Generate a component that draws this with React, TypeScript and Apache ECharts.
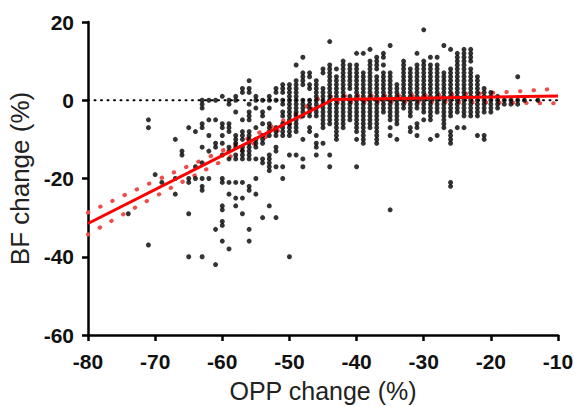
import React, { useEffect, useRef } from "react";
import * as echarts from "echarts";

// OPP change (%) columns and the BF change (%) values observed in each column
const oppColumns = [
  -74, -71, -70, -69, -67, -66, -65, -64, -63, -62, -61, -60, -59, -58, -57, -56, -55, -54, -53, -52,
  -51, -50, -49, -48, -47, -46, -45, -44, -43, -42, -41, -40, -39, -38, -37, -36, -35, -34, -33, -32,
  -31, -30, -29, -28, -27, -26, -25, -24, -23, -22, -21, -20, -19, -18, -17, -16, -15, -13,
];
const bfColumns: number[][] = [
  [-29],
  [-5, -7, -37],
  [-19],
  [-21],
  [-10, -20, -24],
  [-13, -14],
  [-7, -20, -21, -29, -40],
  [-8, -17, -20],
  [0, -1, -2, -6, -7, -12, -16, -20, -22, -23, -40],
  [0, -5, -9, -13, -20],
  [0, -5, -11, -12, -33, -42],
  [1, -6, -7, -9, -11, -14, -20, -21, -27, -28, -31, -32, -36],
  [0, -1, -6, -7, -8, -12, -13, -15, -21, -24, -38],
  [1, 0, -3, -9, -10, -11, -12, -14, -15, -21, -25, -27],
  [3, 2, -5, -8, -9, -10, -12, -13, -14, -15, -21, -25, -29],
  [5, 3, 2, -1, -3, -4, -5, -8, -9, -10, -11, -12, -13, -14, -15, -22, -23, -33, -36],
  [1, 0, -2, -7, -10, -11, -12, -15, -20, -24],
  [0, -3, -4, -6, -9, -10, -11, -15, -16, -30],
  [1, 0, -2, -6, -7, -8, -9, -14, -15, -16, -17, -18, -27],
  [3, 2, 0, -7, -8, -9, -12, -13, -17, -30],
  [4, 3, 2, 0, -1, -3, -4, -6, -7, -8, -9, -17, -20],
  [4, 3, 2, 1, 0, -1, -2, -3, -4, -5, -6, -7, -8, -9, -14, -40],
  [9, 5, 4, 3, 2, 1, 0, -1, -2, -3, -4, -5, -6, -7, -8, -14],
  [11, 7, 6, 5, 4, 0, -1, -2, -3, -4, -10, -15, -17],
  [7, 6, 4, 3, 0, -1, -2, -3, -4, -7, -8],
  [5, 4, 3, 2, 1, 0, -1, -2, -3, -4, -9, -11, -12, -14],
  [8, 7, 3, 2, 1, 0, -1, -2, -3, -4, -5, -6, -7, -11],
  [15, 9, 8, 7, 6, 5, 4, 3, 2, 1, 0, -1, -2, -3, -4, -5, -6, -14, -17],
  [8, 6, 5, 4, 3, 2, 1, 0, -1, -2, -3, -4, -5, -6, -7, -8, -9, -10],
  [10, 9, 8, 7, 6, 5, 4, 3, 2, 1, 0, -1, -2, -3, -4, -5, -6, -7],
  [9, 8, 7, 6, 5, 4, 3, 1, 0, -1, -2, -3, -4, -5],
  [12, 9, 8, 7, 6, 5, 4, 3, 2, 1, 0, -1, -2, -3, -4, -5, -6, -7, -8, -10, -17],
  [12, 7, 6, 5, 4, 3, 2, 1, 0, -1, -2, -3, -4, -5, -6, -7, -8, -9, -10, -11],
  [13, 10, 9, 8, 7, 6, 5, 4, 3, 2, 1, 0, -1, -2, -3, -4, -5, -6, -7],
  [11, 10, 9, 8, 6, 5, 4, 3, 2, 1, 0, -1, -2, -3, -4, -5, -6, -7, -8, -9, -10, -11],
  [12, 11, 9, 7, 6, 5, 4, 3, 2, 1, 0, -1, -2, -3],
  [14, 7, 6, 5, 4, 3, 2, 1, 0, -1, -2, -3, -4, -5, -7, -9, -28],
  [4, 3, 2, 1, 0, -1, -2, -3, -4, -5, -6, -10],
  [10, 9, 8, 7, 6, 5, 4, 3, 2, 1, 0, -1, -2],
  [8, 7, 6, 5, 4, 3, 2, 1, 0, -1, -2, -3, -4, -7, -8],
  [12, 9, 8, 7, 6, 5, 4, 3, 2, 1, 0, -1, -2, -6, -7, -9],
  [18, 10, 9, 8, 7, 6, 5, 4, 3, 2, 1, 0, -1, -2, -3, -5],
  [11, 9, 8, 7, 6, 5, 4, 3, 2, 1, 0, -1, -2, -3, -4, -5, -10],
  [11, 9, 8, 7, 6, 5, 4, 3, 2, 1, 0, -1, -2, -3, -9],
  [14, 7, 6, 5, 4, 3, 2, 1, 0, -1, -2, -3, -4, -5, -6, -7],
  [13, 8, 7, 6, 5, 4, 3, 2, 1, 0, -1, -2, -3, -4, -8, -9, -10, -11, -21, -22],
  [12, 11, 10, 9, 8, 7, 6, 5, 4, 3, 2, 1, 0, -1, -2, -3, -7],
  [13, 12, 11, 10, 9, 8, 7, 6, 5, 4, 3, 2, 1, 0, -1, -2, -3, -4, -7],
  [13, 12, 11, 10, 8, 7, 6, 5, 4, 3, 2, 1, 0, -1, -2, -3, -4],
  [6, 5, 4, 3, 2, 1, 0, -1, -2, -3, -4, -9],
  [3, 2, 1, 0, -1, -2, -3, -9, -10],
  [2, 1, 0, -1, -2, -3],
  [1, 0, -1, -2],
  [0, -1],
  [0, -1],
  [6, 0, -1],
  [0],
  [0],
];

// Segmented regression fit
const fitX = [-80, -43.5, -10];
const fitY = [-31.5, 0.2, 1.1];

// 95% confidence band
const bandX = [-80, -70, -60, -50, -43.5, -35, -25, -10];
const bandUpper = [-28.7, -20.6, -12.9, -4.4, 1.0, 1.2, 1.5, 3.0];
const bandLower = [-34.3, -24.6, -15.5, -6.2, -0.6, -0.4, -0.5, -0.8];

// Zero reference line
const zeroX = [-80, -10];
const zeroY = [0, 0];

const xTicks = { min: -80, max: -10, interval: 10 };
const yTicks = { min: -60, max: 20, interval: 20 };

const FONT = "'Liberation Sans', Arial, sans-serif";

export default function App() {
  const ref = useRef<HTMLDivElement>(null);
  useEffect(() => {
    if (!ref.current) return;
    const chart = echarts.init(ref.current, undefined, { renderer: "svg" });
    const points = oppColumns.flatMap((x, i) => bfColumns[i].map((y) => [x, y]));
    const axisCommon = {
      type: "value" as const,
      axisLine: { show: true, onZero: false, lineStyle: { color: "#000", width: 2.5 } },
      axisTick: { show: true, length: 6, lineStyle: { color: "#000", width: 2.5 } },
      splitLine: { show: false },
      axisLabel: { fontSize: 21, fontWeight: "bold" as const, color: "#111", fontFamily: FONT },
      nameLocation: "middle" as const,
      nameTextStyle: { fontSize: 25, color: "#222", fontFamily: FONT },
    };
    chart.setOption({
      animation: false,
      backgroundColor: "#fff",
      grid: {
        left: 88,
        right: 16,
        top: 22,
        bottom: 72,
        containLabel: false,
        outerBoundsMode: "none",
      },
      xAxis: {
        ...axisCommon,
        ...xTicks,
        name: "OPP change (%)",
        nameGap: 43,
        axisLabel: { ...axisCommon.axisLabel, margin: 16 },
      },
      yAxis: {
        ...axisCommon,
        ...yTicks,
        name: "BF change (%)",
        nameGap: 50,
        nameTextStyle: { ...axisCommon.nameTextStyle, fontSize: 26 },
        axisLabel: { ...axisCommon.axisLabel, margin: 14 },
      },
      series: [
        {
          type: "line",
          data: zeroX.map((x, i) => [x, zeroY[i]]),
          symbol: "none",
          z: 1,
          lineStyle: { color: "#000", width: 2, type: [1, 5.5], cap: "round" },
        },
        {
          type: "line",
          data: bandX.map((x, i) => [x, bandUpper[i]]),
          symbol: "none",
          smooth: true,
          z: 2,
          lineStyle: { color: "#f04a4a", width: 4, type: [0.5, 13], cap: "round" },
        },
        {
          type: "line",
          data: bandX.map((x, i) => [x, bandLower[i]]),
          symbol: "none",
          smooth: true,
          z: 2,
          lineStyle: { color: "#f04a4a", width: 4, type: [0.5, 13], cap: "round" },
        },
        {
          type: "scatter",
          data: points,
          symbol: "circle",
          symbolSize: 5,
          z: 3,
          itemStyle: { color: "#000" },
        },
        {
          type: "line",
          data: fitX.map((x, i) => [x, fitY[i]]),
          symbol: "none",
          z: 4,
          lineStyle: { color: "#ff0000", width: 3 },
        },
      ],
    });
    return () => chart.dispose();
  }, []);
  return (
    <div
      ref={ref}
      style={{ position: "absolute", left: 0, top: 0, width: 574, height: 407, background: "#fff" }}
    />
  );
}
